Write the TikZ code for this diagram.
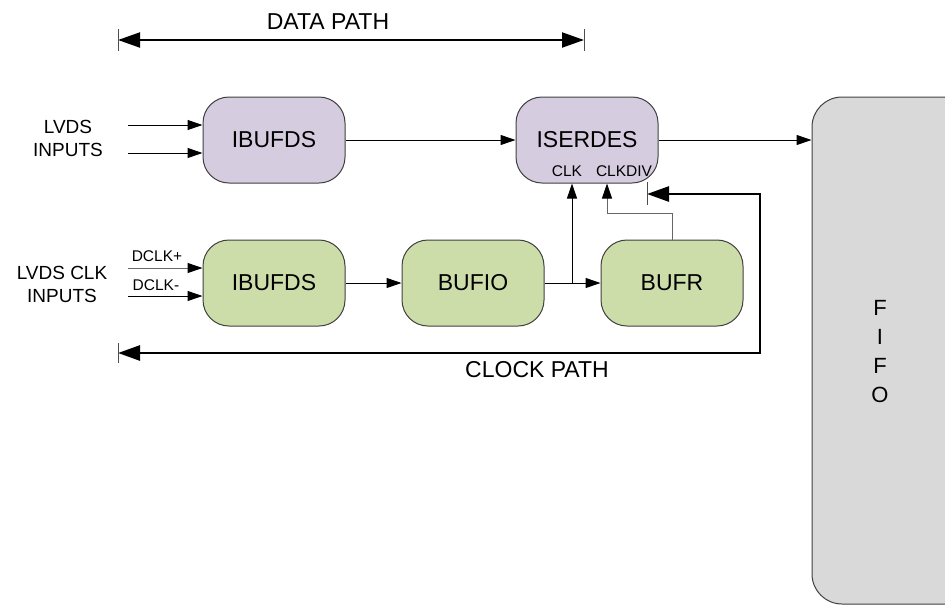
\documentclass[tikz,border=0pt]{standalone}
\usepackage{fontspec}
\setmainfont{Liberation Sans}
\usetikzlibrary{arrows.meta,calc}
\definecolor{lav}{RGB}{213,204,224}
\definecolor{grn}{RGB}{205,221,170}
\definecolor{fifog}{RGB}{217,217,217}
\definecolor{edge}{RGB}{64,64,64}
\tikzset{
  blk/.style={draw=edge, line width=1pt, rounded corners=26pt, minimum width=142pt, minimum height=86pt, inner sep=0pt, font=\fontsize{23}{27}\selectfont},
  purp/.style={blk, fill=lav},
  green/.style={blk, fill=grn},
  arr/.style={line width=1pt, -{Triangle[length=15pt,width=10pt,color=black]}},
  garr/.style={arr, draw=black!60},
  patharr/.style={line width=2pt, {Triangle[length=22pt,width=15pt]}-{Triangle[length=22pt,width=15pt]}},
  clkarr/.style={line width=2.6pt, {Triangle[length=22pt,width=15pt]}-{Triangle[length=22pt,width=15pt]}},
  tick/.style={line width=0.8pt, draw=black!70},
  side/.style={font=\fontsize{19}{23}\selectfont, align=center, inner sep=0pt},
  small/.style={font=\fontsize{15.5}{18}\selectfont, inner sep=0pt},
  big/.style={font=\fontsize{23}{27}\selectfont, inner sep=0pt}
}
\begin{document}
\begin{tikzpicture}[x=1pt,y=-1pt]
\useasboundingbox (0,0) rectangle (945,606);
% FIFO
\node[draw=edge, line width=1pt, fill=fifog, rounded corners=30pt, minimum width=220pt, minimum height=507pt, inner sep=0pt] (fifo) at (922,350.5) {};
\node[font=\fontsize{22}{29}\selectfont, align=center, inner sep=0pt] (fifot) at (880,352) {F\\I\\F\\O};
% blocks
\node[purp] (ib1) at (274,140) {IBUFDS};
\node[purp] (ser) at (587,140) {ISERDES};
\node[green] (ib2) at (274,283) {IBUFDS};
\node[green] (bufio) at (473,283) {BUFIO};
\node[green] (bufr) at (672,283) {BUFR};
% labels
\node[small] (clk) at (567,171) {CLK};
\node[small] (clkdiv) at (624,171) {CLKDIV};
\node[side] (lvds) at (68,138) {LVDS\\INPUTS};
\node[side] (lvdsclk) at (62,284) {LVDS CLK\\INPUTS};
\node[small] (dp) at (157,256) {DCLK+};
\node[small] (dm) at (156,285) {DCLK-};
\node[big] (dpath) at (328,22) {DATA PATH};
\node[big] (cpath) at (537,370) {CLOCK PATH};
% input connectors
\coordinate (in1) at (128,125);
\coordinate (in2) at (128,153);
\coordinate (in3) at (128,268);
\coordinate (in4) at (128,296);
\draw[arr] (in1) -- (in1 -| ib1.west);
\draw[arr] (in2) -- (in2 -| ib1.west);
\draw[garr] (in3) -- (in3 -| ib2.west);
\draw[arr] (in4) -- (in4 -| ib2.west);
% data connectors
\draw[arr] (ib1.east) -- (ser.west);
\draw[arr] (ser.east) -- (ser.east -| fifo.west);
\draw[arr] (ib2.east) -- (bufio.west);
\draw[arr] (bufio.east) -- (bufr.west);
\coordinate (br) at (572,283);
\draw[arr] (br) -- (br |- ser.south);
\coordinate (cdv) at (607,213);
\draw[garr] (bufr.north) |- (cdv) -- (cdv |- ser.south);
% data path
\coordinate (dpL) at (118,40);
\coordinate (dpR) at (584,40);
\draw[patharr] (dpL) -- (dpR);
\draw[tick] ($(dpL)+(0,-11)$) -- ($(dpL)+(0,11)$);
\draw[tick] ($(dpR)+(0,-11)$) -- ($(dpR)+(0,11)$);
% clock path
\coordinate (cpE) at (647,194);
\coordinate (cpT) at (760,194);
\coordinate (cpR) at (760,353);
\coordinate (cpL) at (118,353);
\draw[clkarr, line join=miter] (cpE) -- (cpT) -- (cpR) -- (cpL);
\draw[tick] ($(cpE)+(0,-12)$) -- ($(cpE)+(0,11)$);
\draw[tick] ($(cpL)+(0,-10)$) -- ($(cpL)+(0,10)$);
\end{tikzpicture}
\end{document}
